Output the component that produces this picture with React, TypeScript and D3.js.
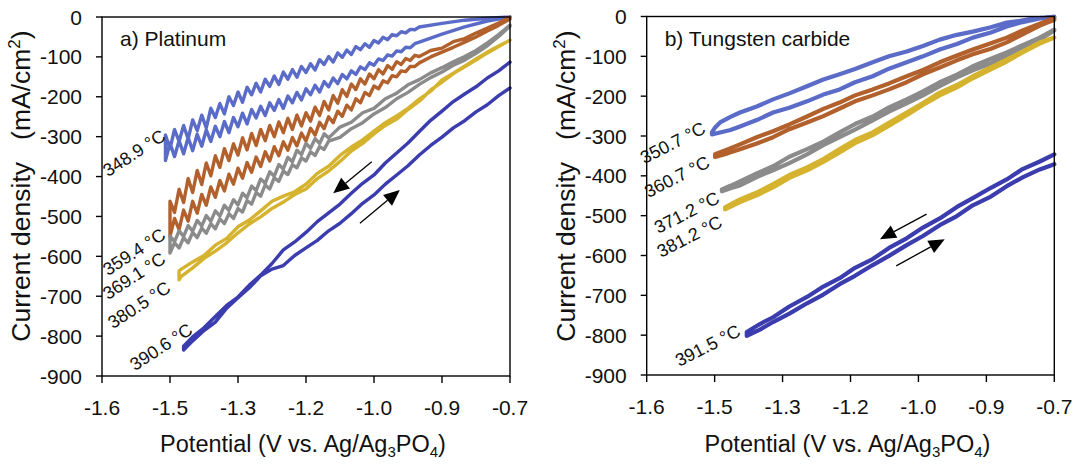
import React from "react";
import * as d3 from "d3";

type Pt = [number, number];

// ---------- axes ----------
const xTickValues = [-1.6, -1.45, -1.3, -1.15, -1.0, -0.85, -0.7];
const xTickLabels = ["-1.6", "-1.5", "-1.3", "-1.2", "-1.0", "-0.9", "-0.7"];
const yTickValues = [0, -100, -200, -300, -400, -500, -600, -700, -800, -900];

// ---------- Platinum panel data ----------
const gridPt = [-1.46, -1.45, -1.44, -1.43, -1.42, -1.41, -1.4, -1.39, -1.38, -1.37, -1.36, -1.35, -1.34, -1.33, -1.32, -1.31, -1.3, -1.29, -1.28, -1.27, -1.26, -1.25, -1.24, -1.23, -1.22, -1.21, -1.2, -1.19, -1.18, -1.17, -1.16, -1.15, -1.14, -1.13, -1.12, -1.11, -1.1, -1.09, -1.08, -1.07, -1.06, -1.05, -1.04, -1.03, -1.02, -1.01, -1.0, -0.99, -0.98, -0.97, -0.96, -0.95, -0.94, -0.93, -0.92, -0.91, -0.9];

// 348.9 °C
const pt349Rev = [-296, -330, -282, -312, -272, -306, -258, -285, -246, -278, -229, -252, -217, -243, -200, -222, -188, -214, -176, -195, -166, -188, -156, -174, -148, -169, -138, -156, -132, -151, -124, -139, -117, -133, -107, -119, -99, -113, -90, -101, -83, -94, -74, -82, -67, -76, -59, -65, -51, -57, -44, -47, -37, -40, -31, -32, -25];
const pt349RevTail: Pt[] = [[-0.85, -16], [-0.8, -8], [-0.75, -3], [-0.7, 0]];
const pt349Fwd = [-360, -316, -350, -310, -343, -302, -335, -294, -324, -283, -312, -274, -300, -262, -290, -252, -275, -241, -268, -232, -253, -224, -247, -215, -234, -207, -229, -198, -215, -189, -208, -180, -195, -171, -188, -162, -175, -153, -167, -144, -155, -135, -144, -125, -132, -115, -121, -105, -109, -95, -98, -85, -87, -76, -77, -67, -63];
const pt349FwdTail: Pt[] = [[-0.85, -43], [-0.8, -25], [-0.75, -10], [-0.7, 0]];

// 359.4 °C (grid from -1.45)
const pt359Rev = [-462, -490, -432, -465, -405, -440, -385, -420, -366, -398, -348, -377, -330, -360, -318, -346, -303, -333, -292, -322, -282, -310, -272, -300, -263, -290, -254, -282, -246, -273, -240, -261, -226, -247, -212, -233, -197, -216, -182, -199, -168, -182, -155, -168, -143, -155, -132, -143, -122, -131, -112, -119, -104, -109, -96, -99];
const pt359RevTail: Pt[] = [[-0.875, -84], [-0.85, -78], [-0.825, -62], [-0.8, -54], [-0.775, -40], [-0.75, -28], [-0.725, -15], [-0.7, 0]];
const pt359Fwd = [-550, -505, -533, -484, -512, -462, -492, -445, -472, -426, -452, -410, -436, -394, -419, -379, -404, -365, -389, -351, -375, -338, -361, -325, -348, -313, -334, -302, -323, -291, -311, -279, -296, -264, -280, -250, -265, -236, -249, -221, -233, -205, -215, -189, -197, -173, -180, -160, -165, -147, -150, -135, -137, -124, -124, -115];
const pt359FwdTail: Pt[] = [[-0.875, -100], [-0.85, -88], [-0.825, -76], [-0.8, -63], [-0.775, -50], [-0.75, -35], [-0.725, -21], [-0.7, -5]];

// 369.1 °C (grid from -1.45 to -1.10)
const pt369Rev = [-549, -563, -536, -550, -523, -537, -510, -524, -498, -512, -486, -499, -472, -485, -458, -471, -442, -453, -424, -435, -406, -417, -388, -399, -370, -381, -352, -363, -334, -345, -317, -329, -305, -317, -293, -303];
const pt369RevTail: Pt[] = [[-1.075, -276], [-1.05, -264], [-1.025, -240], [-1.0, -229], [-0.975, -205], [-0.95, -191], [-0.925, -170], [-0.9, -157], [-0.875, -140], [-0.85, -127], [-0.825, -112], [-0.8, -99], [-0.775, -84], [-0.75, -65], [-0.725, -44], [-0.7, -20]];
const pt369Fwd = [-592, -566, -579, -553, -566, -540, -553, -529, -542, -518, -531, -506, -518, -493, -505, -480, -489, -460, -469, -440, -449, -421, -431, -403, -412, -386, -395, -370, -378, -353, -361, -338, -347, -325, -332, -311];
const pt369FwdTail: Pt[] = [[-1.075, -302], [-1.05, -280], [-1.025, -265], [-1.0, -243], [-0.975, -227], [-0.95, -205], [-0.925, -189], [-0.9, -169], [-0.875, -152], [-0.85, -138], [-0.825, -121], [-0.8, -108], [-0.775, -91], [-0.75, -72], [-0.725, -49], [-0.7, -23]];

// 380.5 °C
const pt380Rev: Pt[] = [[-0.7, -58], [-0.725, -73], [-0.75, -88], [-0.775, -105], [-0.8, -123], [-0.825, -141], [-0.85, -158], [-0.875, -186], [-0.9, -206], [-0.925, -229], [-0.95, -248], [-0.975, -265], [-1.0, -286], [-1.025, -308], [-1.05, -326], [-1.075, -347], [-1.1, -374], [-1.125, -392], [-1.15, -419], [-1.175, -438], [-1.2, -449], [-1.225, -462], [-1.25, -486], [-1.275, -509], [-1.3, -526], [-1.325, -555], [-1.35, -572], [-1.375, -598], [-1.4, -614], [-1.425, -632], [-1.43, -637]];
const pt380Fwd: Pt[] = [[-1.43, -659], [-1.425, -650], [-1.4, -629], [-1.375, -605], [-1.35, -587], [-1.325, -566], [-1.3, -541], [-1.275, -519], [-1.25, -501], [-1.225, -480], [-1.2, -464], [-1.175, -445], [-1.15, -431], [-1.125, -405], [-1.1, -386], [-1.075, -362], [-1.05, -336], [-1.025, -317], [-1.0, -293], [-0.975, -272], [-0.95, -256], [-0.925, -232], [-0.9, -211], [-0.875, -183], [-0.85, -163], [-0.825, -142], [-0.8, -125], [-0.775, -108], [-0.75, -90], [-0.725, -74], [-0.7, -58]];

// 390.6 °C
const pt390Rev: Pt[] = [[-0.7, -113], [-0.725, -135], [-0.75, -153], [-0.775, -175], [-0.8, -193], [-0.825, -212], [-0.85, -236], [-0.875, -259], [-0.9, -287], [-0.925, -316], [-0.95, -341], [-0.975, -366], [-1.0, -396], [-1.025, -417], [-1.05, -442], [-1.075, -469], [-1.1, -491], [-1.125, -513], [-1.15, -540], [-1.175, -564], [-1.2, -584], [-1.225, -618], [-1.25, -647], [-1.275, -672], [-1.3, -702], [-1.325, -723], [-1.35, -751], [-1.375, -779], [-1.4, -802], [-1.42, -825]];
const pt390Fwd: Pt[] = [[-1.42, -835], [-1.4, -812], [-1.375, -786], [-1.35, -765], [-1.325, -730], [-1.3, -704], [-1.275, -679], [-1.25, -649], [-1.225, -632], [-1.2, -623], [-1.175, -598], [-1.15, -579], [-1.125, -560], [-1.1, -536], [-1.075, -517], [-1.05, -493], [-1.025, -467], [-1.0, -446], [-0.975, -419], [-0.95, -396], [-0.925, -373], [-0.9, -346], [-0.875, -322], [-0.85, -301], [-0.825, -278], [-0.8, -260], [-0.775, -238], [-0.75, -220], [-0.725, -197], [-0.7, -178]];

// ---------- Tungsten carbide panel data ----------
const wc351Rev: Pt[] = [[-0.7, 0], [-0.72, -3], [-0.748, -5], [-0.775, -11], [-0.805, -15], [-0.84, -27], [-0.88, -38], [-0.915, -46], [-0.953, -58], [-0.99, -74], [-1.026, -88], [-1.065, -100], [-1.101, -115], [-1.14, -132], [-1.174, -145], [-1.21, -158], [-1.246, -175], [-1.285, -193], [-1.321, -208], [-1.357, -226], [-1.394, -241], [-1.415, -252], [-1.438, -266], [-1.45, -280], [-1.456, -291]];
const wc351Fwd: Pt[] = [[-1.456, -296], [-1.438, -291], [-1.415, -285], [-1.394, -276], [-1.357, -260], [-1.321, -241], [-1.285, -229], [-1.246, -213], [-1.21, -196], [-1.174, -183], [-1.14, -165], [-1.101, -150], [-1.065, -131], [-1.026, -115], [-0.99, -100], [-0.953, -83], [-0.915, -69], [-0.88, -53], [-0.84, -40], [-0.805, -25], [-0.77, -14], [-0.732, -5], [-0.7, 0]];
const wc361Rev: Pt[] = [[-0.7, -3], [-0.732, -18], [-0.77, -35], [-0.805, -53], [-0.84, -67], [-0.88, -83], [-0.915, -98], [-0.953, -115], [-0.99, -134], [-1.026, -150], [-1.065, -168], [-1.101, -183], [-1.14, -198], [-1.174, -216], [-1.21, -232], [-1.246, -251], [-1.285, -271], [-1.321, -288], [-1.357, -303], [-1.394, -321], [-1.42, -333], [-1.449, -346]];
const wc361Fwd: Pt[] = [[-1.449, -353], [-1.42, -343], [-1.394, -333], [-1.357, -319], [-1.321, -303], [-1.285, -283], [-1.246, -266], [-1.21, -250], [-1.174, -231], [-1.14, -213], [-1.101, -198], [-1.065, -183], [-1.026, -165], [-0.99, -145], [-0.953, -128], [-0.915, -110], [-0.88, -95], [-0.84, -81], [-0.805, -65], [-0.77, -45], [-0.732, -23], [-0.7, -8]];
const wc371Rev: Pt[] = [[-0.7, -33], [-0.732, -53], [-0.77, -72], [-0.805, -90], [-0.84, -106], [-0.88, -125], [-0.915, -146], [-0.953, -165], [-0.99, -188], [-1.026, -208], [-1.065, -228], [-1.101, -251], [-1.14, -270], [-1.174, -291], [-1.21, -314], [-1.246, -333], [-1.285, -352], [-1.321, -376], [-1.357, -394], [-1.394, -414], [-1.415, -425], [-1.434, -434]];
const wc371Fwd: Pt[] = [[-1.434, -439], [-1.415, -431], [-1.394, -424], [-1.357, -403], [-1.321, -386], [-1.285, -368], [-1.246, -346], [-1.21, -323], [-1.174, -303], [-1.14, -284], [-1.101, -261], [-1.065, -239], [-1.026, -218], [-0.99, -198], [-0.953, -175], [-0.915, -153], [-0.88, -135], [-0.84, -118], [-0.805, -98], [-0.77, -77], [-0.732, -58], [-0.7, -35]];
const wc381Rev: Pt[] = [[-0.7, -53], [-0.732, -65], [-0.77, -88], [-0.805, -108], [-0.84, -128], [-0.88, -150], [-0.915, -172], [-0.953, -191], [-0.99, -217], [-1.026, -241], [-1.065, -267], [-1.101, -291], [-1.14, -310], [-1.174, -333], [-1.21, -358], [-1.246, -379], [-1.285, -398], [-1.321, -421], [-1.357, -442], [-1.394, -459], [-1.427, -479]];
const wc381Fwd: Pt[] = [[-1.427, -484], [-1.394, -466], [-1.357, -449], [-1.321, -429], [-1.285, -405], [-1.246, -386], [-1.21, -365], [-1.174, -341], [-1.14, -318], [-1.101, -298], [-1.065, -274], [-1.026, -248], [-0.99, -222], [-0.953, -198], [-0.915, -178], [-0.88, -155], [-0.84, -133], [-0.805, -113], [-0.77, -90], [-0.732, -68], [-0.7, -53]];
const wc392Rev: Pt[] = [[-0.7, -346], [-0.732, -364], [-0.77, -383], [-0.805, -409], [-0.84, -430], [-0.88, -456], [-0.915, -478], [-0.953, -507], [-0.99, -530], [-1.026, -557], [-1.065, -581], [-1.101, -609], [-1.14, -631], [-1.174, -657], [-1.21, -678], [-1.246, -704], [-1.285, -728], [-1.321, -755], [-1.35, -772], [-1.379, -792]];
const wc392Fwd: Pt[] = [[-1.379, -802], [-1.35, -786], [-1.321, -767], [-1.285, -746], [-1.246, -720], [-1.21, -698], [-1.174, -672], [-1.14, -651], [-1.101, -624], [-1.065, -601], [-1.026, -574], [-0.99, -551], [-0.953, -524], [-0.915, -501], [-0.88, -474], [-0.84, -452], [-0.805, -426], [-0.77, -404], [-0.732, -384], [-0.7, -371]];

// ---------- annotations ----------
const ptLabels = [
  { text: "348.9 °C", v: -1.457, i: -306 },
  { text: "359.4 °C", v: -1.457, i: -554 },
  { text: "369.1 °C", v: -1.457, i: -614 },
  { text: "380.5 °C", v: -1.446, i: -687 },
  { text: "390.6 °C", v: -1.397, i: -792 },
];
const wcLabels = [
  { text: "350.7 °C", v: -1.467, i: -291 },
  { text: "360.7 °C", v: -1.458, i: -376 },
  { text: "371.2 °C", v: -1.436, i: -466 },
  { text: "381.2 °C", v: -1.43, i: -526 },
  { text: "391.5 °C", v: -1.39, i: -800 },
];
const ptArrows: { from: Pt; to: Pt }[] = [
  { from: [-1.005, -363], to: [-1.09, -442] },
  { from: [-1.031, -517], to: [-0.943, -434] },
];
const wcArrows: { from: Pt; to: Pt }[] = [
  { from: [-0.982, -496], to: [-1.085, -559] },
  { from: [-1.049, -626], to: [-0.942, -559] },
];

// ---------- styles ----------
const C_LBLUE = "#5b6cc8";
const C_BROWN = "#b2602c";
const C_GRAY = "#8b8b8b";
const C_YELLOW = "#d5b32e";
const C_DBLUE = "#3b3cae";
const FONT = "'Liberation Sans', Arial, Helvetica, sans-serif";

const zip = (grid: number[], vals: number[]): Pt[] => vals.map((val, k) => [grid[k], val] as Pt);

const ptCurves = [
  { color: C_LBLUE, rev: [...zip(gridPt, pt349Rev), ...pt349RevTail].reverse(), fwd: [...zip(gridPt, pt349Fwd), ...pt349FwdTail] },
  { color: C_BROWN, rev: [...zip(gridPt.slice(1), pt359Rev), ...pt359RevTail].reverse(), fwd: [...zip(gridPt.slice(1), pt359Fwd), ...pt359FwdTail] },
  { color: C_GRAY, rev: [...zip(gridPt.slice(1), pt369Rev), ...pt369RevTail].reverse(), fwd: [...zip(gridPt.slice(1), pt369Fwd), ...pt369FwdTail] },
  { color: C_YELLOW, rev: pt380Rev, fwd: pt380Fwd },
  { color: C_DBLUE, rev: pt390Rev, fwd: pt390Fwd },
];
const wcCurves = [
  { color: C_LBLUE, rev: wc351Rev, fwd: wc351Fwd },
  { color: C_BROWN, rev: wc361Rev, fwd: wc361Fwd },
  { color: C_GRAY, rev: wc371Rev, fwd: wc371Fwd },
  { color: C_YELLOW, rev: wc381Rev, fwd: wc381Fwd },
  { color: C_DBLUE, rev: wc392Rev, fwd: wc392Fwd },
];

type PanelProps = {
  left: number;
  right: number;
  top: number;
  bottom: number;
  yTitleX: number;
  title: string;
  curves: { color: string; rev: Pt[]; fwd: Pt[] }[];
  labels: { text: string; v: number; i: number }[];
  arrows: { from: Pt; to: Pt }[];
  labelAngle: number;
  strokeW: number;
};

function Panel(p: PanelProps) {
  const x = d3.scaleLinear().domain([-1.6, -0.7]).range([p.left, p.right]);
  const y = d3.scaleLinear().domain([-900, 0]).range([p.bottom, p.top]);
  const line = d3
    .line<Pt>()
    .x((d) => x(d[0]))
    .y((d) => y(d[1]));
  const midX = (p.left + p.right) / 2;
  const midY = 186;

  return (
    <g>
      {/* curves */}
      {p.curves.map((c, k) => (
        <path
          key={k}
          d={line([...c.rev, ...c.fwd]) || ""}
          fill="none"
          stroke={c.color}
          strokeWidth={p.strokeW}
          strokeLinejoin="round"
          strokeLinecap="round"
        />
      ))}
      {/* frame */}
      <rect
        x={p.left}
        y={p.top}
        width={p.right - p.left}
        height={p.bottom - p.top}
        fill="none"
        stroke="#000"
        strokeWidth={1.4}
      />
      {/* y ticks */}
      {yTickValues.map((t) => (
        <g key={"y" + t}>
          <line x1={p.left - 6} x2={p.left} y1={y(t)} y2={y(t)} stroke="#000" strokeWidth={1.4} />
          <text
            x={p.left - 20}
            y={y(t)}
            dy="0.36em"
            textAnchor="end"
            fontSize={21}
            fontFamily={FONT}
            fill="#111"
          >
            {t}
          </text>
        </g>
      ))}
      {/* x ticks */}
      {xTickValues.map((t, k) => (
        <g key={"x" + k}>
          <line x1={x(t)} x2={x(t)} y1={p.bottom} y2={p.bottom + 7} stroke="#000" strokeWidth={1.4} />
          <text x={x(t)} y={p.bottom + 39} textAnchor="middle" fontSize={21} fontFamily={FONT} fill="#111">
            {xTickLabels[k]}
          </text>
        </g>
      ))}
      {/* panel title */}
      <text x={p.left + 18} y={p.top + 29} fontSize={21} fontFamily={FONT} fill="#111">
        {p.title}
      </text>
      {/* temperature labels */}
      {p.labels.map((l, k) => (
        <text
          key={k}
          x={x(l.v)}
          y={y(l.i)}
          textAnchor="end"
          fontSize={18}
          fontFamily={FONT}
          fill="#111"
          transform={`rotate(${p.labelAngle} ${x(l.v)} ${y(l.i)})`}
        >
          {l.text}
        </text>
      ))}
      {/* arrows */}
      {p.arrows.map((a, k) => {
        const x1 = x(a.from[0]);
        const y1 = y(a.from[1]);
        const x2 = x(a.to[0]);
        const y2 = y(a.to[1]);
        const ang = Math.atan2(y2 - y1, x2 - x1);
        const hl = 16;
        const hw = 7;
        const bx = x2 - hl * Math.cos(ang);
        const by = y2 - hl * Math.sin(ang);
        const px = -Math.sin(ang) * hw;
        const py = Math.cos(ang) * hw;
        return (
          <g key={k}>
            <line x1={x1} y1={y1} x2={bx} y2={by} stroke="#000" strokeWidth={1.3} />
            <polygon points={`${x2},${y2} ${bx + px},${by + py} ${bx - px},${by - py}`} fill="#000" />
          </g>
        );
      })}
      {/* axis titles */}
      <text x={midX - 3} y={452} textAnchor="middle" fontSize={23.5} fontFamily={FONT} fill="#111">
        Potential (V vs. Ag/Ag
        <tspan fontSize={15} dy={5}>
          3
        </tspan>
        <tspan dy={-5}>PO</tspan>
        <tspan fontSize={15} dy={5}>
          4
        </tspan>
        <tspan dy={-5}>)</tspan>
      </text>
      <text
        x={p.yTitleX}
        y={midY}
        textAnchor="middle"
        fontSize={26.5}
        fontFamily={FONT}
        fill="#111"
        transform={`rotate(-90 ${p.yTitleX} ${midY})`}
      >
        Current density
        <tspan dx={22}>(mA/cm</tspan>
        <tspan fontSize={17} dy={-10}>
          2
        </tspan>
        <tspan dy={10}>)</tspan>
      </text>
    </g>
  );
}

export default function App() {
  return (
    <svg
      width={1079}
      height={466}
      viewBox="0 0 1079 466"
      style={{ position: "absolute", left: 0, top: 0, background: "#fff" }}
    >
      <rect x={0} y={0} width={1079} height={466} fill="#fff" />
      <Panel
        left={102}
        right={510}
        top={17}
        bottom={376}
        yTitleX={30}
        title="a) Platinum"
        curves={ptCurves}
        labels={ptLabels}
        arrows={ptArrows}
        labelAngle={-33}
        strokeW={3.4}
      />
      <Panel
        left={646.7}
        right={1054.3}
        top={16.5}
        bottom={375}
        yTitleX={575}
        title="b) Tungsten carbide"
        curves={wcCurves}
        labels={wcLabels}
        arrows={wcArrows}
        labelAngle={-27}
        strokeW={4.2}
      />
    </svg>
  );
}
